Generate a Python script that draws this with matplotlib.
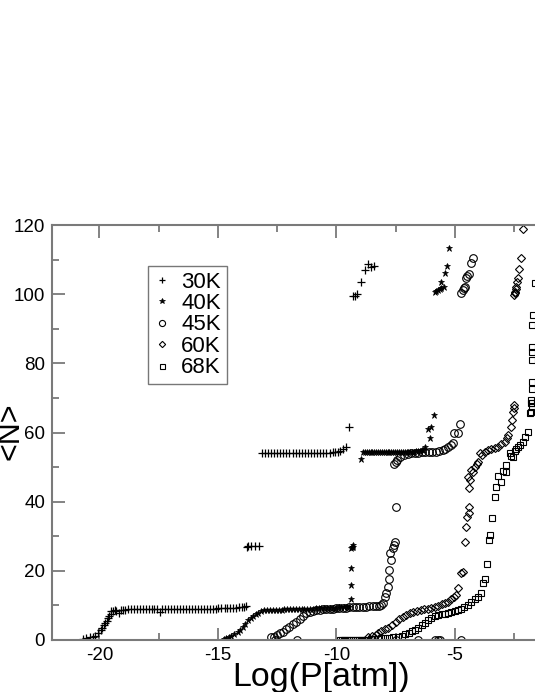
import matplotlib.pyplot as plt
from matplotlib.ticker import FixedLocator, MultipleLocator

plt.rcParams['font.family'] = ['Liberation Sans', 'DejaVu Sans']
plt.rcParams['axes.unicode_minus'] = False

# --- data: x = Log(P[atm]), y = <N> ---
x30 = [-20.70, -20.55, -20.40, -20.28, -20.18, -20.05, -19.95, -19.88, -19.82, -19.75,
       -19.70, -19.63, -19.58, -19.53, -19.49, -19.42, -19.35, -19.28, -19.19, -19.10,
       -19.02, -18.92, -18.80, -18.68, -18.55, -18.42, -18.30, -18.18, -18.05, -17.92,
       -17.80, -17.68, -17.56, -17.46, -17.35, -17.22, -17.10, -16.98, -16.85, -16.72,
       -16.60, -16.48, -16.35, -16.22, -16.10, -15.98, -15.85, -15.72, -15.60, -15.48,
       -15.35, -15.22, -15.10, -14.98, -14.85, -14.72, -14.60, -14.48, -14.35, -14.22,
       -14.10, -13.98, -13.88, -13.80,
       -13.78, -13.72, -13.62, -13.45, -13.28,
       -13.15, -13.02, -12.89, -12.76, -12.63, -12.50, -12.37, -12.24, -12.11, -11.98,
       -11.85, -11.72, -11.59, -11.46, -11.33, -11.20, -11.07, -10.94, -10.81, -10.68,
       -10.55, -10.42, -10.29, -10.16, -10.05, -9.95, -9.85, -9.72, -9.58, -9.46,
       -9.30, -9.22, -9.11, -8.95, -8.81, -8.66, -8.56, -8.41]
y30 = [0.4, 0.6, 0.8, 1.0, 1.3, 1.9, 2.8, 3.6, 4.3, 5.0,
       5.4, 6.3, 7.0, 7.6, 8.5, 8.4, 8.7, 8.3, 7.7, 8.6,
       8.8, 8.7, 8.9, 9.0, 8.9, 9.1, 9.0, 9.1, 9.0, 9.0,
       9.1, 9.0, 9.1, 8.2, 9.1, 9.1, 9.1, 9.1, 9.1, 9.1,
       9.1, 9.1, 9.1, 9.1, 9.1, 9.1, 9.1, 9.1, 9.1, 9.1,
       9.1, 9.1, 9.1, 9.2, 9.2, 9.2, 9.2, 9.2, 9.3, 9.3,
       9.4, 9.5, 9.6, 9.8,
       27.0, 27.2, 27.1, 27.2, 27.2,
       54.2, 54.2, 54.2, 54.2, 54.2, 54.2, 54.2, 54.2, 54.2, 54.2,
       54.2, 54.2, 54.2, 54.2, 54.2, 54.2, 54.2, 54.2, 54.2, 54.2,
       54.2, 54.2, 54.2, 54.3, 54.3, 54.4, 54.6, 55.1, 55.9, 61.7,
       99.5, 99.6, 100.1, 103.6, 107.0, 108.6, 107.9, 108.2]

x40 = [-14.74, -14.65, -14.55, -14.43, -14.30, -14.15, -14.05, -13.94, -13.84, -13.73,
       -13.62, -13.51, -13.40, -13.30, -13.18, -13.05, -12.92, -12.80, -12.68, -12.55,
       -12.43, -12.31, -12.19, -12.07, -11.95, -11.83, -11.71, -11.59, -11.47, -11.35,
       -11.23, -11.11, -10.99, -10.87, -10.75, -10.63, -10.51, -10.39, -10.27, -10.15,
       -10.03, -9.91, -9.79, -9.67, -9.55, -9.45,
       -9.40, -9.40, -9.38, -9.40, -9.36, -9.32, -9.28,
       -8.95, -8.88, -8.80, -8.72, -8.64, -8.56, -8.48, -8.40, -8.32, -8.24,
       -8.16, -8.08, -8.00, -7.92, -7.84, -7.76, -7.68, -7.60, -7.52, -7.44,
       -7.36, -7.28, -7.20, -7.12, -7.04, -6.96, -6.88, -6.80, -6.72, -6.64,
       -6.56, -6.48, -6.40, -6.34, -6.27, -6.13, -6.06, -5.99, -5.88,
       -5.85, -5.78, -5.71, -5.64, -5.57, -5.46, -5.57, -5.40, -5.33, -5.26]
y40 = [0.4, 0.6, 0.8, 1.2, 1.7, 2.4, 3.0, 3.7, 4.6, 5.8,
       6.3, 6.8, 7.4, 7.9, 8.3, 8.6, 8.7, 8.6, 8.7, 8.8,
       8.8, 8.8, 8.9, 8.9, 8.9, 9.0, 9.0, 9.0, 9.0, 9.1,
       9.1, 9.1, 9.1, 9.2, 9.2, 9.2, 9.2, 9.3, 9.3, 9.3,
       9.3, 9.4, 9.4, 9.4, 9.5, 9.5,
       11.8, 15.9, 20.9, 26.5, 27.0, 27.5, 26.8,
       52.2, 54.3, 54.4, 54.4, 54.4, 54.4, 54.4, 54.4, 54.4, 54.4,
       54.4, 54.4, 54.4, 54.4, 54.4, 54.4, 54.4, 54.4, 54.4, 54.4,
       54.5, 54.5, 54.5, 54.5, 54.5, 54.5, 54.5, 54.5, 54.5, 54.6,
       54.6, 54.7, 54.8, 55.0, 55.9, 60.9, 58.3, 61.5, 65.1,
       100.7, 100.9, 101.2, 101.5, 101.7, 102.2, 103.6, 106.0, 108.2, 113.4]

x45 = [-12.60, -11.65, -7.47, -6.55, -5.85, -5.71, -5.61, -4.75,
       -12.74, -12.62, -12.50, -12.38, -12.25, -12.11, -11.98, -11.84, -11.69, -11.55,
       -11.41, -11.27, -11.13, -10.99, -10.85, -10.71, -10.57, -10.43, -10.29, -10.15,
       -10.01, -9.87, -9.73, -9.59, -9.45, -9.31, -9.17, -9.03, -8.89, -8.75,
       -8.61, -8.47, -8.33, -8.20, -8.10, -8.02, -7.96, -7.90, -7.82, -7.79,
       -7.79, -7.75, -7.68, -7.62, -7.57, -7.54, -7.47,
       -7.57, -7.50, -7.43, -7.30, -7.15, -7.00, -6.85, -6.70, -6.55, -6.40,
       -6.25, -6.10, -5.95, -5.80, -5.65, -5.52, -5.43, -5.29, -5.18, -5.08,
       -5.04, -4.89, -4.80,
       -4.73, -4.66, -4.60, -4.56, -4.52, -4.48, -4.42, -4.30, -4.23]
y45 = [0.0, 0.0, 0.0, 0.0, 0.0, 0.0, 0.0, 0.0,
       0.8, 1.0, 1.4, 1.9, 2.4, 3.1, 3.9, 4.6, 5.3, 6.2,
       7.0, 7.7, 8.2, 8.5, 8.7, 8.8, 8.9, 9.0, 9.1, 9.1,
       9.2, 9.2, 9.3, 9.3, 9.4, 9.4, 9.5, 9.5, 9.6, 9.6,
       9.7, 9.7, 9.8, 9.9, 10.1, 10.6, 12.5, 13.6, 15.4, 17.5,
       20.2, 25.1, 23.1, 26.5, 27.5, 28.4, 38.5,
       50.9, 51.5, 52.0, 53.0, 53.5, 53.8, 54.0, 54.1, 54.2, 54.3,
       54.3, 54.4, 54.4, 54.5, 54.6, 54.8, 55.1, 55.9, 56.4, 56.9,
       59.8, 60.0, 62.5,
       100.3, 101.2, 101.8, 102.2, 104.8, 105.3, 105.7, 108.9, 110.4]

x60 = [-8.66, -8.50, -8.35, -8.24, -8.10, -7.95, -7.82, -7.65, -7.50, -7.35,
       -7.20, -7.05, -6.90, -6.75, -6.60, -6.45, -6.30, -6.15, -6.00, -5.85,
       -5.70, -5.55, -5.42, -5.29, -5.15, -5.03, -4.94, -4.87, -4.73, -4.66,
       -4.59, -4.52, -4.47, -4.42, -4.42, -4.40, -4.44, -4.38, -4.30, -4.22,
       -4.16, -4.08, -4.02, -3.95, -3.85, -3.74, -3.60, -3.46, -3.32, -3.18,
       -3.04, -2.90, -2.80, -2.76, -2.62, -2.57, -2.55, -2.52, -2.50,
       -2.50, -2.47, -2.45, -2.43, -2.41, -2.38, -2.34, -2.31, -2.19, -2.11]
y60 = [0.8, 1.1, 1.5, 1.9, 2.5, 3.2, 3.6, 4.4, 5.2, 6.0,
       6.7, 7.3, 7.7, 8.1, 8.4, 8.7, 8.9, 9.1, 9.3, 9.6,
       9.9, 10.3, 10.7, 11.1, 11.8, 12.5, 13.0, 14.9, 19.3, 19.8,
       28.4, 32.6, 35.7, 36.6, 38.5, 43.9, 47.0, 46.2, 49.2, 48.6,
       50.1, 50.8, 51.6, 54.0, 53.5, 54.5, 54.8, 55.1, 55.5, 55.9,
       56.6, 57.3, 58.5, 59.3, 61.7, 63.6, 66.0, 67.0, 68.0,
       99.8, 100.2, 100.7, 101.5, 102.2, 103.5, 104.6, 107.2, 110.6, 118.9]

x68 = [-9.86, -9.78, -9.70, -9.62, -9.54, -9.46, -9.38, -9.30, -9.22, -9.14,
       -9.06, -8.98, -8.90, -8.82, -8.74, -8.66,
       -8.55, -8.40, -8.25, -8.10, -7.95, -7.80, -7.60, -7.40, -7.25, -7.10,
       -6.95, -6.80, -6.70, -6.55, -6.40, -6.27, -6.13, -6.00, -5.85, -5.70,
       -5.55, -5.40, -5.29, -5.15, -5.00, -4.86, -4.73, -4.60, -4.45, -4.30,
       -4.16, -4.02, -3.88, -3.81, -3.74, -3.64, -3.57, -3.50, -3.42, -3.32,
       -3.25, -3.18, -3.04, -2.97, -2.83, -2.83, -2.69, -2.62, -2.55, -2.48,
       -2.41, -2.34, -2.27, -2.12, -2.05, -1.91, -1.84, -1.80, -1.77, -1.74,
       -1.74, -1.77, -1.74, -1.74, -1.74, -1.74, -1.74, -1.74, -1.70, -1.63]
y68 = [0.0, 0.0, 0.0, 0.0, 0.0, 0.0, 0.0, 0.0, 0.0, 0.0,
       0.0, 0.0, 0.0, 0.0, 0.0, 0.0,
       0.2, 0.3, 0.4, 0.5, 0.6, 0.7, 0.8, 0.9, 1.2, 1.6,
       2.1, 2.6, 2.9, 3.6, 4.3, 5.0, 5.7, 6.3, 6.8, 7.2,
       7.4, 7.6, 7.7, 8.0, 8.3, 8.6, 8.9, 9.4, 10.2, 11.1,
       11.8, 12.5, 13.7, 16.4, 17.5, 21.9, 28.9, 30.4, 35.2, 41.4,
       44.2, 47.4, 45.8, 49.0, 48.7, 50.6, 54.0, 53.2, 53.0, 54.6,
       55.1, 55.8, 56.4, 57.3, 58.8, 60.2, 65.7, 68.5, 66.0, 67.5,
       68.4, 69.4, 72.5, 74.7, 81.0, 83.4, 84.8, 91.1, 94.0, 103.1]

labels = ["30K", "40K", "45K", "60K", "68K"]
xticks = [-20, -15, -10, -5]
xminor = [-17.5, -12.5, -7.5, -2.5]

fig = plt.figure(figsize=(5.35, 6.92), dpi=100)
ax = fig.add_axes([52/535, 52/692, 521.4/535, 415/692])

ax.plot(x30, y30, '+', color='black', ms=6, mew=0.9, label=labels[0])
ax.plot(x40, y40, '*', color='black', ms=5, mew=0.5, label=labels[1])
ax.plot(x45, y45, 'o', mfc='none', mec='black', ms=5.5, mew=0.8, label=labels[2])
ax.plot(x60, y60, 'D', mfc='none', mec='black', ms=4, mew=0.8, label=labels[3])
ax.plot(x68, y68, 's', mfc='none', mec='black', ms=4.5, mew=0.8, label=labels[4])

ax.set_xlim(-22, 0)
ax.set_ylim(0, 120)
ax.xaxis.set_major_locator(FixedLocator(xticks))
ax.xaxis.set_minor_locator(FixedLocator(xminor))
ax.yaxis.set_major_locator(MultipleLocator(20))
ax.yaxis.set_minor_locator(MultipleLocator(10))

spine_col = '#7a7a7a'
for s in ax.spines.values():
    s.set_color(spine_col)
    s.set_linewidth(1.5)
ax.tick_params(which='both', direction='in', top=True, right=True, color=spine_col,
               width=1.3, labelsize=13.5, pad=5)
ax.tick_params(which='major', length=9)
ax.tick_params(which='minor', length=5)

ax.set_xlabel("Log(P[atm])", fontsize=24.5)
ax.xaxis.set_label_coords(0.516, -0.053)
ax.set_ylabel("<N>", fontsize=22)
ax.yaxis.set_label_coords(-0.050, 0.502)

leg = ax.legend(loc='upper left', bbox_to_anchor=(96/521.4, 1 - 41/415), fontsize=16,
                frameon=True, fancybox=False, handlelength=0.8, handletextpad=0.45,
                borderpad=0.25, labelspacing=0.02, markerscale=0.8, borderaxespad=0)
leg.get_frame().set_edgecolor('#555555')
leg.get_frame().set_linewidth(1.0)

fig.savefig("out.png", dpi=100)
